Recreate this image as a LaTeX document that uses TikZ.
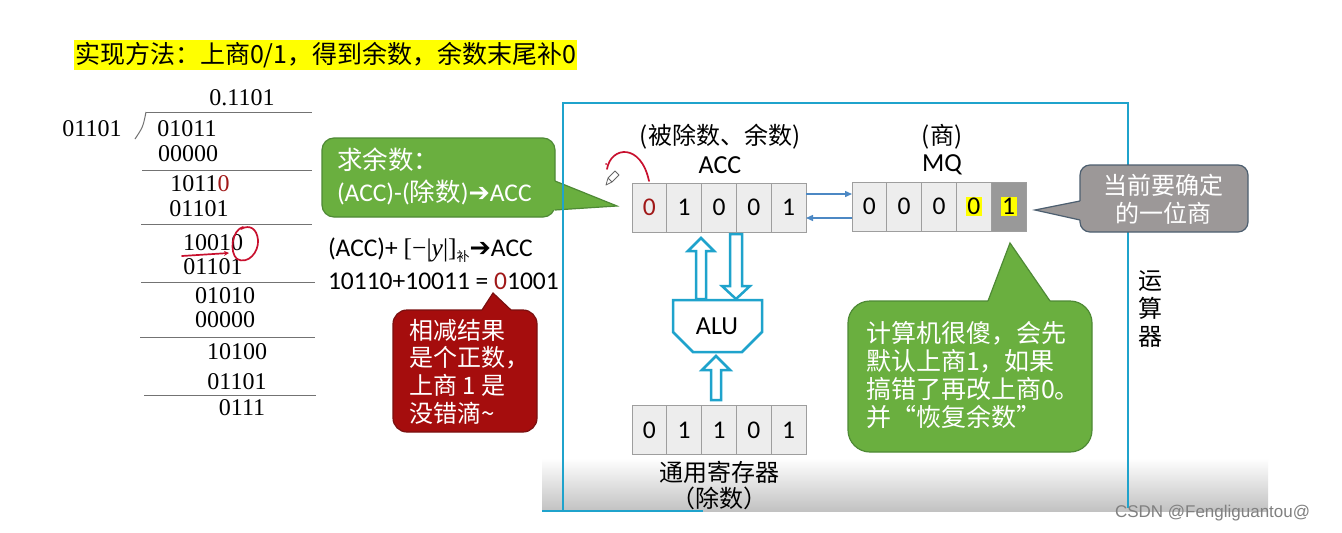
\documentclass[tikz,border=0pt]{standalone}
\usepackage{fontspec}
\setmainfont{Carlito}
\newfontfamily\cjk{Noto Sans CJK SC}
\newfontfamily\serifnum{Liberation Serif}
\newfontfamily\symf{DejaVu Sans}
\newfontfamily\wmfont{Liberation Sans}
\usetikzlibrary{arrows.meta,calc}
\definecolor{cyanline}{HTML}{1FA3CC}
\definecolor{greenfill}{HTML}{6AAF3F}
\definecolor{greenedge}{HTML}{4E8A35}
\definecolor{redfill}{HTML}{A50D0D}
\definecolor{rededge}{HTML}{7A1010}
\definecolor{grayfill}{HTML}{9C9898}
\definecolor{grayedge}{HTML}{4D5F70}
\definecolor{darkred}{HTML}{A01818}
\definecolor{penred}{HTML}{C8102E}
\definecolor{steel}{HTML}{4C88C4}
\definecolor{hl}{HTML}{FFFF00}
\setlength{\fboxsep}{1.5pt}
\begin{document}
\begin{tikzpicture}[x=1pt,y=-1pt,
  every node/.style={inner sep=0pt, outer sep=0pt},
  num/.style={font=\serifnum\fontsize{24}{26}\selectfont},
  rule/.style={draw=black!55, line width=1pt},
  cell/.style={draw=black!38, fill=black!7, line width=1pt, minimum width=34.8pt, minimum height=49pt, font=\fontsize{25.5}{27}\selectfont},
  frameline/.style={draw=cyanline, line width=2.8pt},
  hollow/.style={draw=cyanline, line width=2.5pt, fill=white, line join=miter},
  link/.style={draw=steel, line width=1.4pt, -{Triangle[length=7pt,width=6pt]}},
  redpen/.style={draw=penred, line width=1.7pt, line cap=round},
  cnt/.style={font=\cjk\fontsize{24}{28}\selectfont},
  lat/.style={font=\fontsize{26}{28}\selectfont},
]
\useasboundingbox (0,0) rectangle (1342,533);
\fill[white] (0,0) rectangle (1342,533);

% title
\node[fill=hl, anchor=west, minimum height=30pt, inner xsep=1pt, font=\cjk\fontsize{25}{28}\selectfont] (title) at (74,55) {实现方法：上商0/1，得到余数，余数末尾补0};

% long division
\node[num] (q) at (242,98) {0.1101};
\node[num] (dv) at (92,129) {01101};
\node[num] (r0) at (187,129) {01011};
\node[num] (s0) at (188,154) {00000};
\node[num] (r1) at (200,184) {1011{\color{darkred}0}};
\node[num] (s1) at (199,209) {01101};
\node[num] (r2) at (213,243) {10010};
\node[num] (s2) at (213,267) {01101};
\node[num] (r3) at (225,296) {01010};
\node[num] (s3) at (225,320) {00000};
\node[num] (r4) at (237,352) {10100};
\node[num] (s4) at (237,382) {01101};
\node[num] (r5) at (242,408) {0111};
\draw[rule] (146,112) -- (312,112);
\draw[rule] (146,112) .. controls (143,127) .. (135,139);
\draw[rule] (142,170) -- (312,170);
\draw[rule] (141,224) -- (312,224);
\draw[rule] (141,282) -- (315,282);
\draw[rule] (140,337) -- (315,337);
\draw[rule] (144,395) -- (316,395);
% red handwriting
\draw[redpen, -{Stealth[length=5pt,width=5pt]}] (182,256) -- (229,253);
\draw[redpen] (243,227) .. controls (232,230) and (229,252) .. (237,259)
  .. controls (248,265) and (259,252) .. (258,240) .. controls (257,229) and (250,224) .. (241,229);

% green callout 1
\node[draw=greenedge, fill=greenfill, rounded corners=12pt, line width=1.2pt, minimum width=233pt, minimum height=79pt] (g1) at (438.5,177.5) {};
\coordinate (g1tip) at (617,206);
\fill[greenfill] (555,181) -- (g1tip) -- (555,210) -- (549,210) -- (549,181) -- cycle;
\draw[greenedge, line width=1.2pt] (555,181) -- (g1tip) -- (555,210);
\node[anchor=west, align=left, text=white, font=\fontsize{25.5}{32}\selectfont] (g1txt) at (337,176) {{\cjk 求余数：}\\(ACC)-({\cjk 除数}){\symf ➔}ACC};

% formula
\node[anchor=west, font=\fontsize{25.5}{28}\selectfont] (f1) at (328,250) {(ACC)+ {\serifnum [−|\textit{y}|]}\raisebox{-5pt}{\cjk\fontsize{13}{14}\selectfont 补}{\symf ➔}ACC};
\node[anchor=west, font=\fontsize{25.5}{28}\selectfont] (f2) at (328,281) {10110+10011 = {\color{darkred}0}1001};

% red callout
\node[draw=rededge, fill=redfill, rounded corners=14pt, line width=1.2pt, minimum width=144pt, minimum height=122pt] (rc) at (465,371) {};
\coordinate (rctip) at (493,293);
\fill[redfill] (482,310) -- (rctip) -- (511,310) -- (511,315) -- (482,315) -- cycle;
\draw[rededge, line width=1.2pt] (482,310) -- (rctip) -- (511,310);
\node[anchor=west, align=left, text=white, font=\cjk\fontsize{24}{27.7}\selectfont] (rctxt) at (409,371.5) {相减结果\\是个正数，\\上商 1 是\\没错滴\textasciitilde};

% bottom band and frame
\shade[top color=white, bottom color=black!24] (542,458) rectangle (1268,511);
\draw[frameline] (563,511) -- (563,103) -- (1128,103) -- (1128,508);
\draw[draw=cyanline, line width=2pt] (542,511) -- (703,511);

% labels
\node[cnt] (acclab1) at (720,137) {(被除数、余数)};
\node[lat] (acclab2) at (720,165) {ACC};
\node[cnt] (mqlab1) at (942,137) {(商)};
\node[lat] (mqlab2) at (942,165) {MQ};

% ACC register
\node[cell] (acc1) at (649.4,207.5) {\color{darkred}0};
\node[cell] (acc2) at (684.2,207.5) {1};
\node[cell] (acc3) at (719.0,207.5) {0};
\node[cell] (acc4) at (753.8,207.5) {0};
\node[cell] (acc5) at (788.6,207.5) {1};
% MQ register
\node[cell] (mq1) at (869.4,206.5) {0};
\node[cell] (mq2) at (904.2,206.5) {0};
\node[cell] (mq3) at (939.0,206.5) {0};
\node[cell] (mq4) at (973.8,206.5) {\colorbox{hl}{0}};
\node[cell, fill=black!40] (mq5) at (1008.6,206.5) {\colorbox{hl}{1}};
% links
\coordinate (ya) at (0,194);
\coordinate (yb) at (0,218);
\draw[link] (acc5.east |- ya) -- (mq1.west |- ya);
\draw[link] (mq1.west |- yb) -- (acc5.east |- yb);

% pencil mark
\draw[redpen] (607,169) .. controls (611,146) and (641,143) .. (649,181);
\fill[penred] (606,164) circle (1pt);
\draw[black!60, line width=0.8pt, line join=round] (606,185) -- (608,178) -- (615,171) -- (619,175) -- (612,182) -- cycle (608,178) -- (612,182);

% ALU
\draw[hollow] (673,300) -- (762,300) -- (762,332) -- (742,352) -- (693,352) -- (673,332) -- cycle;
\node[lat] (alu) at (717,326) {ALU};
\draw[hollow] (696,299) -- (696,251) -- (688,251) -- (701,238) -- (714,251) -- (706,251) -- (706,299) -- cycle;
\draw[hollow] (730,234) -- (730,286) -- (722,286) -- (736,299) -- (750,286) -- (742,286) -- (742,234) -- cycle;
\draw[hollow] (711,400) -- (711,370) -- (702,370) -- (716,356) -- (730,370) -- (721,370) -- (721,400) -- cycle;

% general register
\node[cell] (gr1) at (649.4,430) {0};
\node[cell] (gr2) at (684.2,430) {1};
\node[cell] (gr3) at (719.0,430) {1};
\node[cell] (gr4) at (753.8,430) {0};
\node[cell] (gr5) at (788.6,430) {1};
\node[cnt] (grlab1) at (719,472) {通用寄存器};
\node[cnt] (grlab2) at (719,498) {（除数）};

% green callout 2
\node[draw=greenedge, fill=greenfill, rounded corners=22pt, line width=1.2pt, minimum width=244pt, minimum height=151pt] (g2) at (970,376.5) {};
\coordinate (g2tip) at (1010,243);
\fill[greenfill] (988,301) -- (g2tip) -- (1050,301) -- (1050,306) -- (988,306) -- cycle;
\draw[greenedge, line width=1.2pt] (988,301) -- (g2tip) -- (1050,301);
\node[anchor=west, align=left, text=white, font=\cjk\fontsize{25}{28}\selectfont] (g2txt) at (866,375) {计算机很傻，会先\\默认上商1，如果\\搞错了再改上商0。\\并“恢复余数”};

% gray callout
\node[draw=grayedge, fill=grayfill, rounded corners=10pt, line width=1.2pt, minimum width=168pt, minimum height=67pt] (gc) at (1164,198.5) {};
\coordinate (gctip) at (1035,210);
\fill[grayfill] (1080,201) -- (gctip) -- (1080,220) -- (1085,220) -- (1085,201) -- cycle;
\draw[grayedge, line width=1.2pt] (1080,201) -- (gctip) -- (1080,220);
\node[align=center, text=white, font=\cjk\fontsize{24}{28}\selectfont] (gctxt) at (1163,199) {当前要确定\\的一位商};

% vertical label
\node[align=center, font=\cjk\fontsize{24}{28}\selectfont] (ysq) at (1150,309) {运\\算\\器};

% watermark
\node[anchor=west, text=black!50, font=\wmfont\fontsize{17}{19}\selectfont] (wm) at (1115,513) {CSDN @Fengliguantou@};
\end{tikzpicture}
\end{document}
